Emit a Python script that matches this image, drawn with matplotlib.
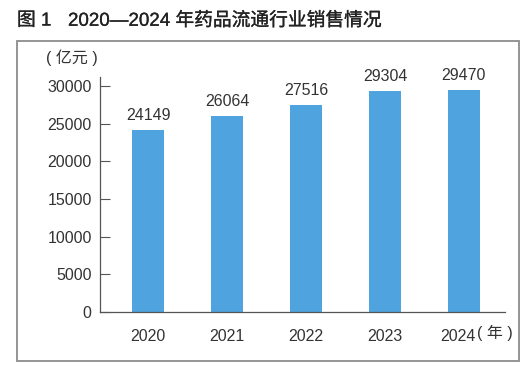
import matplotlib
matplotlib.use("Agg")
import matplotlib.pyplot as plt
import matplotlib.patheffects as pe
from matplotlib.patches import Rectangle
from matplotlib.transforms import ScaledTranslation

years = ["2020", "2021", "2022", "2023", "2024"]
sales = [24149, 26064, 27516, 29304, 29470]
yticks = [0, 5000, 10000, 15000, 20000, 25000, 30000]

plt.rcParams["font.family"] = ["Liberation Sans", "Noto Sans CJK SC"]

fig = plt.figure(figsize=(5.30, 3.77), dpi=100)
ax = fig.add_axes([0.1887, 0.1724, 0.764, 0.6233])

x = list(range(len(years)))
ax.bar(x, sales, width=0.405, color="#4fa3df")
for xi, v in zip(x, sales):
    ax.annotate(str(v), (xi, v), xytext=(0, 5), textcoords="offset points",
                ha="center", va="bottom", fontsize=11.5, color="#333333")

ax.set_xlim(-0.61, 4.52)
ax.set_ylim(0, 31200)
ax.set_yticks(yticks)
ax.set_yticklabels([str(t) for t in yticks])
ax.set_xticks(x)
ax.set_xticklabels(years)
ax.tick_params(axis="y", direction="in", length=7, color="#555555",
               labelsize=11.5, labelcolor="#333333", pad=6)
ax.tick_params(axis="x", length=0, labelsize=11.5, labelcolor="#333333", pad=12)
for side in ["top", "right"]:
    ax.spines[side].set_visible(False)
for side in ["left", "bottom"]:
    ax.spines[side].set_color("#555555")
    ax.spines[side].set_linewidth(0.9)

# last year label sits a little left to make room for the unit
last = ax.get_xticklabels()[-1]
last.set_transform(last.get_transform() + ScaledTranslation(-6 / 100, 0, fig.dpi_scale_trans))

fig.text(477 / 530, 1 - 333 / 377, "( 年 )", fontsize=11.5, color="#333333",
         ha="left", va="center")
fig.text(46 / 530, 1 - 58 / 377, "( 亿元 )", fontsize=11.5, color="#333333",
         ha="left", va="center")

fig.add_artist(Rectangle((17 / 530, 1 - 361 / 377), 502 / 530, 320 / 377,
                         transform=fig.transFigure, fill=False,
                         edgecolor="#8c8c8c", linewidth=1.3))

title_fx = [pe.withStroke(linewidth=0.2, foreground="#222222")]
fig.text(17 / 530, 1 - 21 / 377, "图 1", fontsize=13.5, color="#222222",
         ha="left", va="center", path_effects=title_fx)
fig.text(68 / 530, 1 - 21 / 377, "2020—2024 年药品流通行业销售情况",
         fontsize=13.5, color="#222222", ha="left", va="center",
         path_effects=title_fx)

fig.savefig("out.png", dpi=100)
